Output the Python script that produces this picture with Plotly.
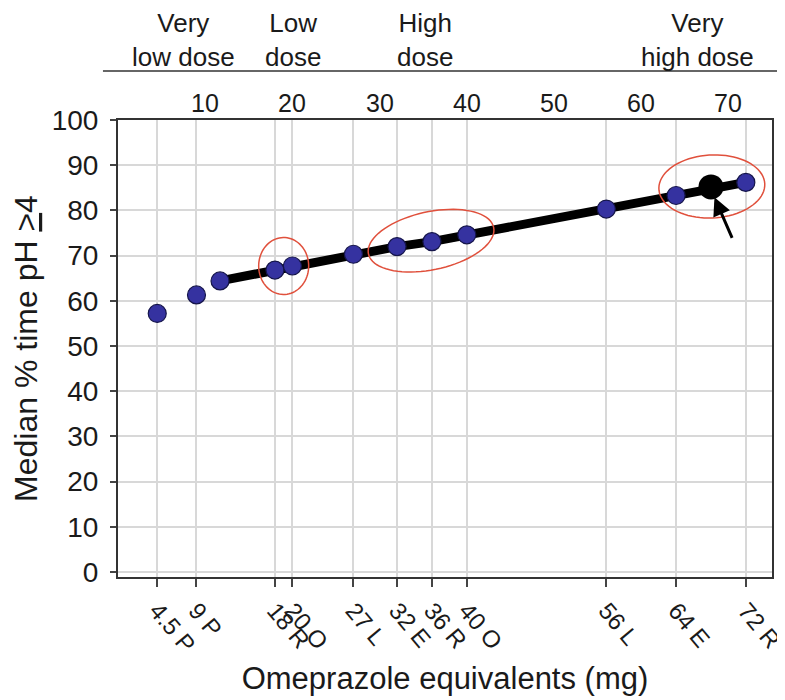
import numpy as np
import plotly.graph_objects as go

# ---- data ----
dose_mg = [4.5, 9, 11.7, 18, 20, 27, 32, 36, 40, 56, 64, 72]
median_pct = [57.2, 61.3, 64.4, 66.8, 67.7, 70.3, 72.0, 73.1, 74.6, 80.3, 83.3, 86.2]
tick_vals = [4.5, 9, 18, 20, 27, 32, 36, 40, 56, 64, 72]
tick_text = ["4.5 P", "9 P", "18 R", "20 O", "27 L", "32 E", "36 R", "40 O", "56 L", "64 E", "72 R"]
top_ticks = [10, 20, 30, 40, 50, 60, 70]
dose_groups = ["Very<br>low dose", "Low<br>dose", "High<br>dose", "Very<br>high dose"]
highlight_x = [68]
highlight_y = [85.2]
line_x = [x for x in dose_mg if x >= 11.7]
line_y = [y for x, y in zip(dose_mg, median_pct) if x >= 11.7]

FONT = "Liberation Sans, Arial, sans-serif"
XR = [0, 75]
YR = [-1.1, 100]
ML, MR, MT, MB = 110, 13, 112, 123
W, H = 777, 692
sx = (W - ML - MR) / (XR[1] - XR[0])
sy = (H - MT - MB) / (YR[1] - YR[0])


def ellipse_path(cx, cy, a, b, ang):
    t = np.linspace(0, 2 * np.pi, 80)
    th = np.radians(ang)
    px = a * np.cos(t) * np.cos(th) - b * np.sin(t) * np.sin(th)
    py = a * np.cos(t) * np.sin(th) + b * np.sin(t) * np.cos(th)
    xs = cx + px / sx
    ys = cy + py / sy
    return "M " + " L ".join(f"{x:.3f},{y:.3f}" for x, y in zip(xs, ys)) + " Z"


fig = go.Figure()
fig.add_trace(go.Scatter(x=line_x[:9] + highlight_x + line_x[9:], y=line_y[:9] + highlight_y + line_y[9:],
                         mode="lines", line=dict(color="black", width=9), hoverinfo="skip"))
fig.add_trace(go.Scatter(x=dose_mg, y=median_pct, mode="markers",
                         marker=dict(size=18, color="#3532a0", line=dict(color="#15154a", width=1.2))))
fig.add_trace(go.Scatter(x=highlight_x, y=highlight_y, mode="markers",
                         marker=dict(size=25, color="black")))

red = "#e0503c"
for cx, cy, a, b, ang in [(19.0, 67.7, 25, 28.5, 0), (35.9, 73.3, 64, 29, 12), (68.1, 85.3, 53, 31.5, 3)]:
    fig.add_shape(type="path", path=ellipse_path(cx, cy, a, b, ang), xref="x", yref="y",
                  line=dict(color=red, width=1.5))

# header line
fig.add_shape(type="line", xref="paper", yref="paper", x0=-0.023, x1=1.008, y0=1.107, y1=1.107,
              line=dict(color="#333", width=1.5))

ann = []
for v in top_ticks:
    ann.append(dict(x=v, y=1.037, xref="x", yref="paper", text=str(v), showarrow=False,
                    yanchor="middle", font=dict(size=25, color="#1a1a1a", family=FONT)))
for gx, g in zip([7.5, 20.1, 35.2, 66.4], dose_groups):
    ann.append(dict(x=gx, y=1.174, xref="x", yref="paper", text=g, showarrow=False,
                    yanchor="middle", borderpad=0, font=dict(size=26, color="#1a1a1a", family=FONT)))
ann.append(dict(x=68.4, y=82.9, ax=70.5, ay=73.6, xref="x", yref="y", axref="x", ayref="y",
                text="", showarrow=True, arrowhead=2, arrowsize=1.2, arrowwidth=3, arrowcolor="black",
                standoff=0))

fig.update_layout(
    width=W, height=H, margin=dict(l=ML, r=MR, t=MT, b=MB, autoexpand=False),
    paper_bgcolor="white", plot_bgcolor="white", showlegend=False,
    font=dict(family=FONT, color="#1a1a1a"),
    annotations=ann,
)
fig.update_xaxes(range=XR, tickvals=tick_vals, ticktext=tick_text, tickangle=50,
                 ticks="outside", ticklen=8, tickcolor="#444", tickwidth=1.5,
                 showgrid=True, gridcolor="#d8d8d8", gridwidth=1.5,
                 showline=True, linecolor="#333", linewidth=2, mirror=True, zeroline=False,
                 automargin=False, ticklabeloverflow="allow",
                 tickfont=dict(size=24, family=FONT),
                 title=dict(text="Omeprazole equivalents (mg)", font=dict(size=31, family=FONT), standoff=11))
fig.update_yaxes(range=YR, dtick=10, tick0=0,
                 ticks="outside", ticklen=6, tickcolor="#444", tickwidth=1.5,
                 showgrid=True, gridcolor="#d8d8d8", gridwidth=1.5,
                 showline=True, linecolor="#333", linewidth=2, mirror=True, zeroline=False,
                 automargin=False, ticklabelstandoff=6,
                 tickfont=dict(size=28, family=FONT),
                 title=dict(text="Median % time pH <u>&gt;</u>4", font=dict(size=32, family=FONT), standoff=6))

fig.write_html("out.html")
